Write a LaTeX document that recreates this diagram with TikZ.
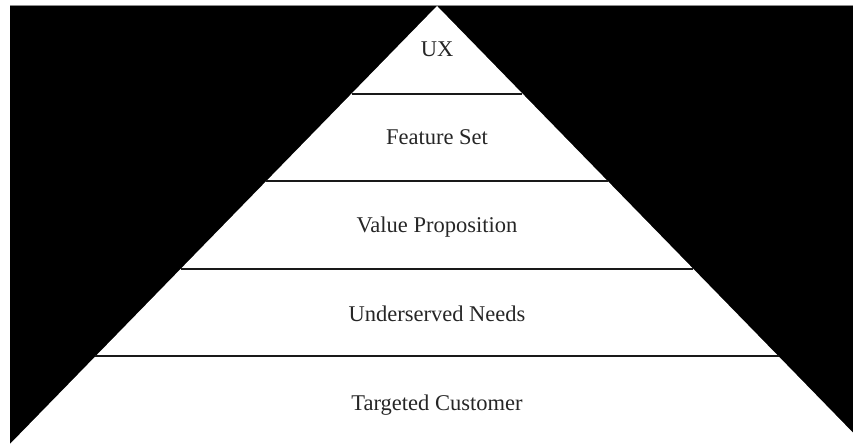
\documentclass[tikz,border=0pt]{standalone}
\usepackage{fontspec}
\setmainfont{Liberation Serif}
\usetikzlibrary{calc}
\begin{document}
\begin{tikzpicture}[x=1pt,y=1pt,
  tier/.style={line width=2pt,draw=black!90},
  label/.style={anchor=base,inner sep=0pt,font=\fontsize{22.5}{27}\selectfont,text=black!85}]
  \useasboundingbox (0,0) rectangle (853,444);
  % dark backdrop
  \fill[black] (10,0) rectangle (853,438.5);
  \draw[black!45,line width=0.8pt] (10,438.6) -- (853,438.6);
  % pyramid corners
  \coordinate (apex) at (437,438);
  \coordinate (bl) at (10,0);
  \coordinate (br) at (864,0);
  \begin{scope}
    \clip (0,0) rectangle (853,444);
    \fill[white] (apex) -- (bl) -- (br) -- cycle;
  \end{scope}
  % tier separators
  \foreach \t in {0.2,0.4,0.6,0.8}{
    \draw[tier] ($(apex)!\t!(bl)$) -- ($(apex)!\t!(br)$);
  }
  % tier labels
  \node[label] (ux) at (437,444-57) {UX};
  \node[label] (feat) at (437,444-145) {Feature Set};
  \node[label] (value) at (437,444-233) {Value Proposition};
  \node[label] (needs) at (437,444-322) {Underserved Needs};
  \node[label] (cust) at (437,444-410) {Targeted Customer};
\end{tikzpicture}
\end{document}
